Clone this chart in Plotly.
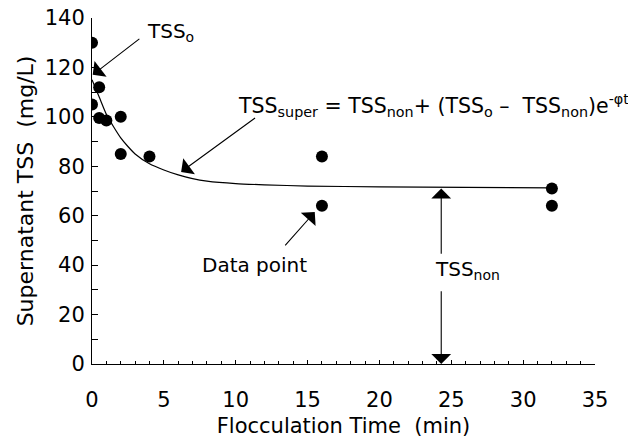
import plotly.graph_objects as go

# Observed data points
time_min = [0, 0, 0.5, 0.5, 1, 2, 2, 4, 16, 16, 32, 32]
tss_obs = [130, 105, 112, 99.5, 98.5, 100, 85, 84, 84, 64, 71, 64]

# Fitted curve
curve_t = [0, 0.5, 1, 1.5, 2, 2.5, 3, 4, 5, 6, 7, 8, 10, 12, 15, 20, 26, 32]
curve_y = [115, 108, 101, 96, 91.5, 88, 85, 81, 78.5, 76.5, 75, 74, 73, 72.5, 72, 71.7, 71.5, 71.3]

x_ticks = [0, 5, 10, 15, 20, 25, 30, 35]
y_ticks = [0, 20, 40, 60, 80, 100, 120, 140]

FONT = "DejaVu Sans"

fig = go.Figure()
fig.add_trace(go.Scatter(x=curve_t, y=curve_y, mode="lines",
                         line=dict(color="black", width=1.2, shape="spline", smoothing=0.6),
                         hoverinfo="skip", showlegend=False))
fig.add_trace(go.Scatter(x=time_min, y=tss_obs, mode="markers",
                         marker=dict(color="black", size=12), showlegend=False))

arrow = dict(showarrow=True, arrowhead=1, arrowsize=3, arrowwidth=1.1, arrowcolor="black",
             axref="x", ayref="y", xref="x", yref="y", text="", standoff=0)

anns = [
    # TSSo
    dict(x=0.05, y=117, ax=3.4, ay=132, **arrow),
    dict(x=3.7, y=134.5, text="TSS<sub>o</sub>", showarrow=False, xanchor="left", yanchor="middle"),
    # formula
    dict(x=6.2, y=77.7, ax=11.45, ay=100, **arrow),
    dict(x=10.0, y=104.5, showarrow=False, xanchor="left", yanchor="middle",
         font=dict(family=FONT, size=20.5, color="black"),
         text="TSS<sub>super</sub> = TSS<sub>non</sub>+ (TSS<sub>o</sub> \u2013\u00a0 TSS<sub>non</sub>)e<sup>-\u03c6t</sup>"),
    # data point
    dict(x=15.5, y=61.5, ax=13.35, ay=47.4, **arrow),
    dict(x=7.5, y=40, text="Data point", showarrow=False, xanchor="left", yanchor="middle"),
    # TSSnon
    dict(x=24.3, y=71, ax=24.3, ay=44, **arrow),
    dict(x=24.3, y=0, ax=24.3, ay=30, **arrow),
    dict(x=23.7, y=38, text="TSS<sub>non</sub>", showarrow=False, xanchor="left", yanchor="middle"),
]
for a in anns:
    a.setdefault("font", dict(family=FONT, size=20, color="black"))
    a.setdefault("xref", "x")
    a.setdefault("yref", "y")
    fig.add_annotation(**a)

fig.update_layout(
    width=628, height=441,
    margin=dict(l=92, r=33, t=18, b=77),
    paper_bgcolor="white", plot_bgcolor="white",
    font=dict(family=FONT, size=21, color="black"),
    showlegend=False,
)
fig.update_xaxes(range=[0, 35], tickvals=x_ticks, ticktext=[str(v) for v in x_ticks],
                 showgrid=False, zeroline=False, showline=True, linecolor="black", linewidth=1,
                 ticks="inside", ticklen=4, tickcolor="black", automargin=False,
                 minor=dict(dtick=1, ticks="inside", ticklen=3, tickcolor="black", showgrid=False),
                 ticklabelstandoff=17,
                 title=dict(text="Flocculation Time\u00a0 (min)", standoff=7,
                            font=dict(family=FONT, size=21)))
fig.update_yaxes(range=[0, 140], tickvals=y_ticks, ticktext=[str(v) for v in y_ticks],
                 showgrid=False, zeroline=False, showline=True, linecolor="black", linewidth=1,
                 ticks="inside", ticklen=6, tickcolor="black", automargin=False,
                 minor=dict(dtick=10, ticks="inside", ticklen=6, tickcolor="black", showgrid=False),
                 ticklabelstandoff=2,
                 title=dict(text="Supernatant TSS\u00a0 (mg/L)", standoff=5,
                            font=dict(family=FONT, size=22)))

fig.write_html("out.html")
